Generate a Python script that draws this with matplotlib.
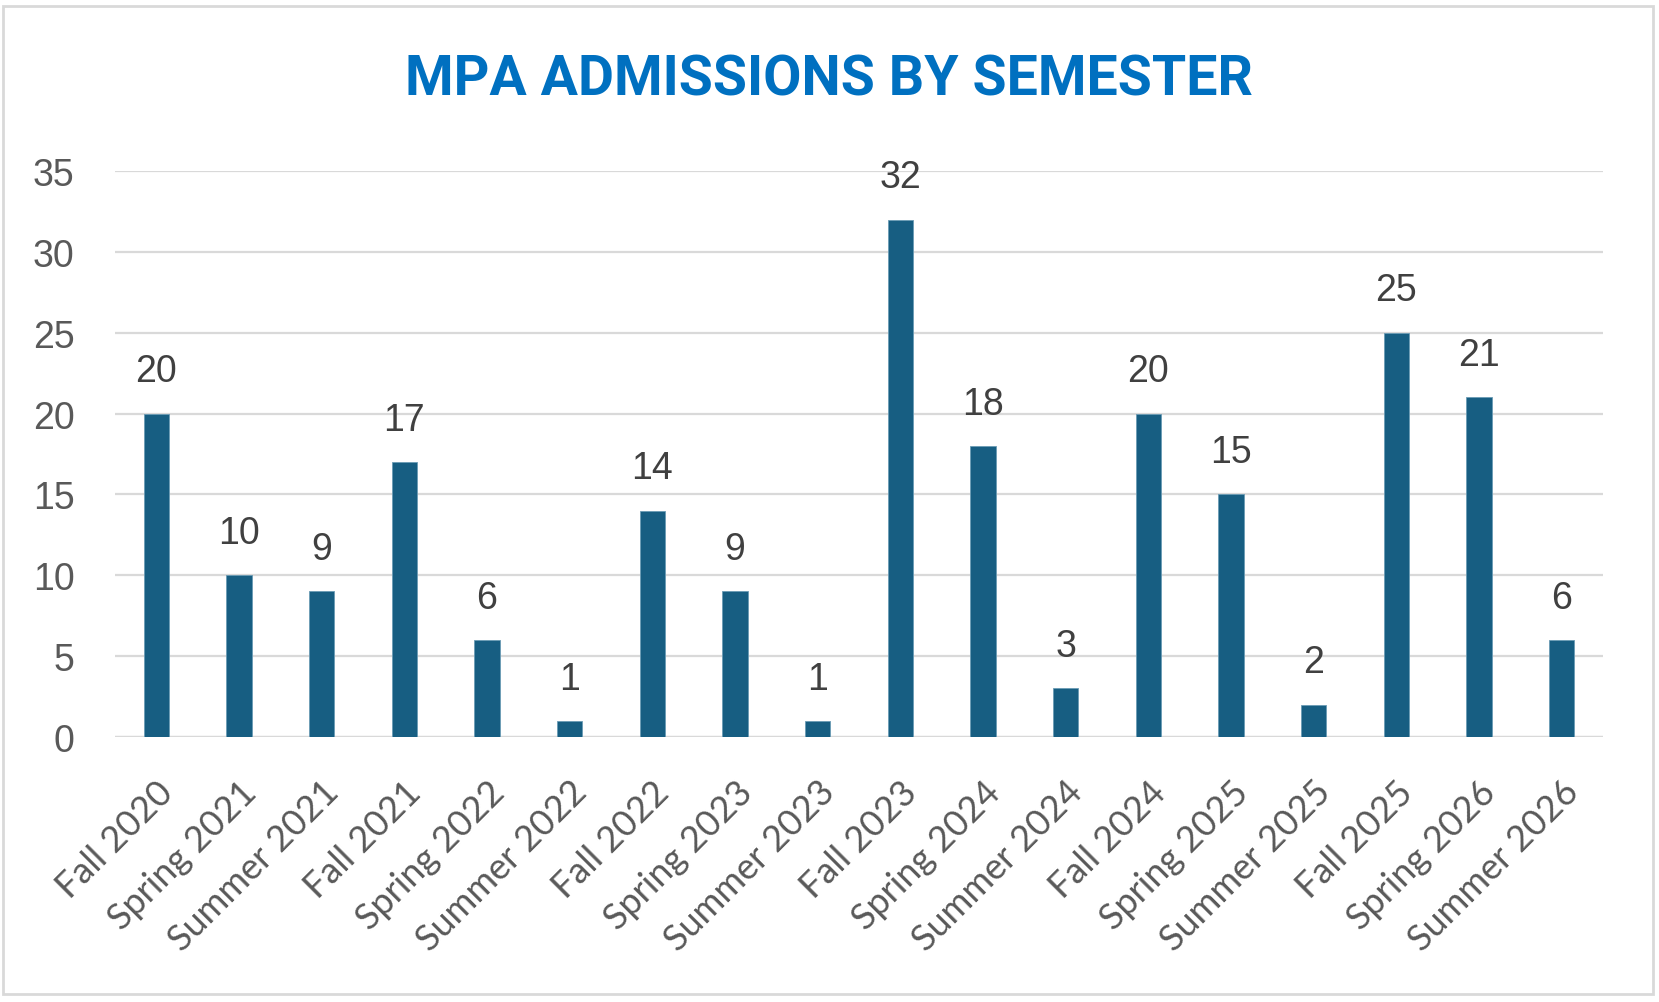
import matplotlib.pyplot as plt
from matplotlib.patches import Rectangle

# semesters and admitted students
semesters = ["Fall 2020", "Spring 2021", "Summer 2021", "Fall 2021", "Spring 2022",
             "Summer 2022", "Fall 2022", "Spring 2023", "Summer 2023", "Fall 2023",
             "Spring 2024", "Summer 2024", "Fall 2024", "Spring 2025", "Summer 2025",
             "Fall 2025", "Spring 2026", "Summer 2026"]
admissions = [20, 10, 9, 17, 6, 1, 14, 9, 1, 32, 18, 3, 20, 15, 2, 25, 21, 6]
y_ticks = [0, 5, 10, 15, 20, 25, 30, 35]

W, H = 1659, 1003
fig = plt.figure(figsize=(W / 100, H / 100), dpi=100)
ax = fig.add_axes([115 / W, 1 - 738 / H, (1603 - 115) / W, (738 - 172) / H])

# outer frame of the chart area
fig.patches.append(Rectangle((3 / W, 8 / H), 1650 / W, 988 / H, transform=fig.transFigure,
                             fill=False, edgecolor="#D9D9D9", linewidth=2))

x = range(len(semesters))
bars = ax.bar(x, admissions, width=0.31, color="#175E82", edgecolor="#6A9BB5",
              linewidth=0.6, zorder=3)

for b, v in zip(bars, admissions):
    ax.text(b.get_x() + b.get_width() / 2, v + 1.5, str(v), ha="center", va="bottom",
            fontsize=27, color="#404040", family="Liberation Sans")

ax.set_xlim(-0.5, len(semesters) - 0.5)
ax.set_ylim(0, 35)
ax.set_yticks(y_ticks)
ax.set_yticklabels([str(t) for t in y_ticks], fontsize=27, color="#595959",
                   family="Liberation Sans")
ax.set_xticks(list(x))
ax.set_xticklabels(semesters, rotation=45, ha="right", va="top", rotation_mode="anchor",
                   fontsize=26, color="#595959", family="Lato")
ax.tick_params(axis="y", length=0, pad=29)
ax.tick_params(axis="x", length=0, pad=27)

ax.grid(axis="y", color="#D9D9D9", linewidth=1.6, zorder=0)
for s in ["top", "right", "left", "bottom"]:
    ax.spines[s].set_visible(False)
ax.axhline(0, color="#D9D9D9", linewidth=1.6, zorder=2)

fig.text(829 / W, 1 - 80 / H, "MPA ADMISSIONS BY SEMESTER", ha="center", va="center",
         fontsize=40, fontweight="bold", color="#0070C0", family="Roboto")

fig.savefig("out.png", dpi=100, facecolor="white")
